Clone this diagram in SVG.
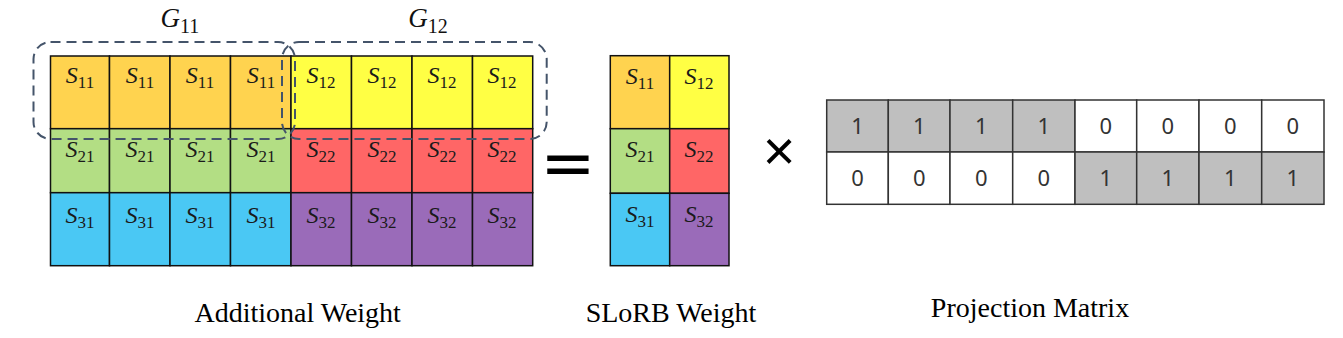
<svg xmlns="http://www.w3.org/2000/svg" width="1343" height="338" viewBox="0 0 1343 338">
<style>
.c{stroke:#111;stroke-width:1.5}
.or{fill:#FFD34F}.ye{fill:#FFFF44}.gr{fill:#B3DE84}.re{fill:#FF6666}.bl{fill:#4AC8F4}.pu{fill:#9A6BB9}
.gy{fill:#BFBFBF}.wh{fill:#FFFFFF}
.p{stroke:#333;stroke-width:1.5}
.s{font-family:"Liberation Serif",serif;font-style:italic;font-size:24px;fill:#1a1a1a}
.sub{font-family:"Liberation Serif",serif;font-style:normal;font-size:17px}
.g{font-family:"Liberation Serif",serif;font-style:italic;font-size:27px;fill:#111}
.gsub{font-family:"Liberation Serif",serif;font-style:normal;font-size:20px}
.num{font-family:"Noto Sans",sans-serif;font-size:22px;fill:#333;text-anchor:middle}
.lbl{font-family:"Liberation Serif",serif;font-size:28px;fill:#000;text-anchor:middle}
.dash{fill:none;stroke:#44546A;stroke-width:2;stroke-dasharray:10 6}
.op{font-family:"DejaVu Sans",sans-serif;fill:#000;text-anchor:middle}
</style>

<g id="additional-weight">
  <rect class="c or" x="50.5" y="56" width="59" height="72.7"/>
  <rect class="c or" x="109.5" y="56" width="60.5" height="72.7"/>
  <rect class="c or" x="170" y="56" width="60.5" height="72.7"/>
  <rect class="c or" x="230.5" y="56" width="60.5" height="72.7"/>
  <rect class="c ye" x="291" y="56" width="60.5" height="72.7"/>
  <rect class="c ye" x="351.5" y="56" width="60.5" height="72.7"/>
  <rect class="c ye" x="412" y="56" width="60.5" height="72.7"/>
  <rect class="c ye" x="472.5" y="56" width="60.2" height="72.7"/>
  <rect class="c gr" x="50.5" y="128.7" width="59" height="64"/>
  <rect class="c gr" x="109.5" y="128.7" width="60.5" height="64"/>
  <rect class="c gr" x="170" y="128.7" width="60.5" height="64"/>
  <rect class="c gr" x="230.5" y="128.7" width="60.5" height="64"/>
  <rect class="c re" x="291" y="128.7" width="60.5" height="64"/>
  <rect class="c re" x="351.5" y="128.7" width="60.5" height="64"/>
  <rect class="c re" x="412" y="128.7" width="60.5" height="64"/>
  <rect class="c re" x="472.5" y="128.7" width="60.2" height="64"/>
  <rect class="c bl" x="50.5" y="192.7" width="59" height="73"/>
  <rect class="c bl" x="109.5" y="192.7" width="60.5" height="73"/>
  <rect class="c bl" x="170" y="192.7" width="60.5" height="73"/>
  <rect class="c bl" x="230.5" y="192.7" width="60.5" height="73"/>
  <rect class="c pu" x="291" y="192.7" width="60.5" height="73"/>
  <rect class="c pu" x="351.5" y="192.7" width="60.5" height="73"/>
  <rect class="c pu" x="412" y="192.7" width="60.5" height="73"/>
  <rect class="c pu" x="472.5" y="192.7" width="60.2" height="73"/>

  <g class="s" text-anchor="middle">
    <text x="80" y="83">S<tspan class="sub" dy="5">11</tspan></text>
    <text x="140" y="83">S<tspan class="sub" dy="5">11</tspan></text>
    <text x="200" y="83">S<tspan class="sub" dy="5">11</tspan></text>
    <text x="261" y="83">S<tspan class="sub" dy="5">11</tspan></text>
    <text x="321" y="83">S<tspan class="sub" dy="5">12</tspan></text>
    <text x="382" y="83">S<tspan class="sub" dy="5">12</tspan></text>
    <text x="442" y="83">S<tspan class="sub" dy="5">12</tspan></text>
    <text x="502" y="83">S<tspan class="sub" dy="5">12</tspan></text>

    <text x="80" y="157">S<tspan class="sub" dy="5">21</tspan></text>
    <text x="140" y="157">S<tspan class="sub" dy="5">21</tspan></text>
    <text x="200" y="157">S<tspan class="sub" dy="5">21</tspan></text>
    <text x="261" y="157">S<tspan class="sub" dy="5">21</tspan></text>
    <text x="321" y="157">S<tspan class="sub" dy="5">22</tspan></text>
    <text x="382" y="157">S<tspan class="sub" dy="5">22</tspan></text>
    <text x="442" y="157">S<tspan class="sub" dy="5">22</tspan></text>
    <text x="502" y="157">S<tspan class="sub" dy="5">22</tspan></text>

    <text x="80" y="223">S<tspan class="sub" dy="5">31</tspan></text>
    <text x="140" y="223">S<tspan class="sub" dy="5">31</tspan></text>
    <text x="200" y="223">S<tspan class="sub" dy="5">31</tspan></text>
    <text x="261" y="223">S<tspan class="sub" dy="5">31</tspan></text>
    <text x="321" y="223">S<tspan class="sub" dy="5">32</tspan></text>
    <text x="382" y="223">S<tspan class="sub" dy="5">32</tspan></text>
    <text x="442" y="223">S<tspan class="sub" dy="5">32</tspan></text>
    <text x="502" y="223">S<tspan class="sub" dy="5">32</tspan></text>
  </g>
</g>

<g id="group-G11">
  <rect class="dash" x="33.5" y="42" width="261.5" height="97" rx="17" ry="17"/>
  <text class="g" x="180" y="27" text-anchor="middle">G<tspan class="gsub" dy="6">11</tspan></text>
</g>
<g id="group-G12">
  <rect class="dash" x="282" y="42" width="264.7" height="97" rx="17" ry="17"/>
  <text class="g" x="428" y="27" text-anchor="middle">G<tspan class="gsub" dy="6">12</tspan></text>
</g>

<g id="equals">
  <text class="op" x="568" y="185" font-size="66">=</text>
</g>

<g id="slorb-weight">
  <rect class="c or" x="610.3" y="55.7" width="59.4" height="73"/>
  <rect class="c ye" x="669.7" y="55.7" width="59.3" height="73"/>
  <rect class="c gr" x="610.3" y="128.7" width="59.4" height="64.6"/>
  <rect class="c re" x="669.7" y="128.7" width="59.3" height="64.6"/>
  <rect class="c bl" x="610.3" y="193.3" width="59.4" height="72.4"/>
  <rect class="c pu" x="669.7" y="193.3" width="59.3" height="72.4"/>
  <g class="s" text-anchor="middle">
    <text x="640" y="84">S<tspan class="sub" dy="5">11</tspan></text>
    <text x="699" y="84">S<tspan class="sub" dy="5">12</tspan></text>
    <text x="640" y="157">S<tspan class="sub" dy="5">21</tspan></text>
    <text x="699" y="157">S<tspan class="sub" dy="5">22</tspan></text>
    <text x="640" y="222">S<tspan class="sub" dy="5">31</tspan></text>
    <text x="699" y="222">S<tspan class="sub" dy="5">32</tspan></text>
  </g>
</g>

<g id="times">
  <text x="779" y="170" font-family="'Liberation Sans',sans-serif" font-size="56" text-anchor="middle" fill="#000">×</text>
</g>

<g id="projection-matrix">
  <rect class="p gy" x="826.7" y="100" width="61.6" height="52"/>
  <rect class="p gy" x="888.3" y="100" width="61.7" height="52"/>
  <rect class="p gy" x="950" y="100" width="62.7" height="52"/>
  <rect class="p gy" x="1012.7" y="100" width="62.3" height="52"/>
  <rect class="p wh" x="1075" y="100" width="61.7" height="52"/>
  <rect class="p wh" x="1136.7" y="100" width="62.3" height="52"/>
  <rect class="p wh" x="1199" y="100" width="62.7" height="52"/>
  <rect class="p wh" x="1261.7" y="100" width="62.3" height="52"/>
  <rect class="p wh" x="826.7" y="152" width="61.6" height="52.3"/>
  <rect class="p wh" x="888.3" y="152" width="61.7" height="52.3"/>
  <rect class="p wh" x="950" y="152" width="62.7" height="52.3"/>
  <rect class="p wh" x="1012.7" y="152" width="62.3" height="52.3"/>
  <rect class="p gy" x="1075" y="152" width="61.7" height="52.3"/>
  <rect class="p gy" x="1136.7" y="152" width="62.3" height="52.3"/>
  <rect class="p gy" x="1199" y="152" width="62.7" height="52.3"/>
  <rect class="p gy" x="1261.7" y="152" width="62.3" height="52.3"/>
  <g class="num">
    <text x="857.5" y="134">1</text>
    <text x="919.2" y="134">1</text>
    <text x="981.3" y="134">1</text>
    <text x="1043.8" y="134">1</text>
    <text x="1105.8" y="134">0</text>
    <text x="1167.8" y="134">0</text>
    <text x="1230.3" y="134">0</text>
    <text x="1292.8" y="134">0</text>
    <text x="857.5" y="186">0</text>
    <text x="919.2" y="186">0</text>
    <text x="981.3" y="186">0</text>
    <text x="1043.8" y="186">0</text>
    <text x="1105.8" y="186">1</text>
    <text x="1167.8" y="186">1</text>
    <text x="1230.3" y="186">1</text>
    <text x="1292.8" y="186">1</text>
  </g>
</g>

<g id="labels">
  <text class="lbl" x="297.7" y="322">Additional Weight</text>
  <text class="lbl" x="671" y="322">SLoRB Weight</text>
  <text class="lbl" x="1030" y="317">Projection Matrix</text>
</g>
</svg>
